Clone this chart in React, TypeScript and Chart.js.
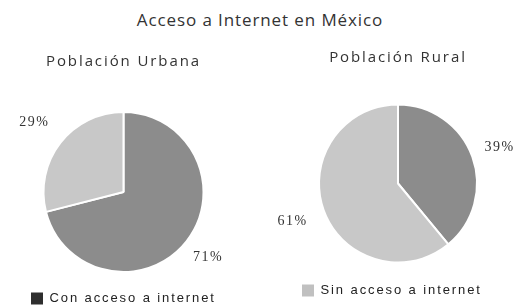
import React, { useEffect, useRef } from "react";
import { Chart, registerables } from "chart.js";

Chart.register(...registerables);

const mainTitle = "Acceso a Internet en México";
const categories = ["Con acceso a internet", "Sin acceso a internet"];
const urbanTitle = "Población Urbana";
const ruralTitle = "Población Rural";
const urbanValues = [71, 29];
const ruralValues = [39, 61];

const sliceColors = ["#8c8c8c", "#c8c8c8"];
const legendColors = ["#2e2e2e", "#c0c0c0"];

const spacingPlugin = {
  id: "spacing",
  beforeDraw(chart: any) {
    (chart.ctx as any).letterSpacing = "1.9px";
  },
  beforeDatasetsDraw(chart: any) {
    (chart.ctx as any).letterSpacing = "0px";
  },
};

const pctLabels = {
  id: "pctLabels",
  afterDatasetsDraw(chart: any, _args: any, opts: any) {
    const ctx = chart.ctx;
    const meta = chart.getDatasetMeta(0);
    const data = chart.data.datasets[0].data as number[];
    ctx.save();
    (ctx as any).letterSpacing = "1.5px";
    ctx.font = "14px 'Liberation Serif', serif";
    ctx.fillStyle = "#333";
    ctx.textAlign = "center";
    ctx.textBaseline = "middle";
    meta.data.forEach((arc: any, i: number) => {
      const p = arc.getProps(["x", "y", "startAngle", "endAngle", "outerRadius"], true);
      const mid = (p.startAngle + p.endAngle) / 2;
      const r = p.outerRadius + (opts.offsets ? opts.offsets[i] : 30);
      ctx.fillText(data[i] + "%", p.x + Math.cos(mid) * r, p.y + Math.sin(mid) * r);
    });
    ctx.restore();
  },
};

function PieChart(props: {
  title: string;
  values: number[];
  legendIndex: number;
  left: number;
  width: number;
  radius: number;
  padL: number;
  padR: number;
  padB: number;
  titleTop: number;
  titleBottom: number;
  offsets: number[];
}) {
  const ref = useRef<HTMLCanvasElement>(null);
  useEffect(() => {
    if (!ref.current) return;
    const chart = new Chart(ref.current, {
      type: "pie",
      data: {
        labels: categories,
        datasets: [
          {
            data: props.values,
            backgroundColor: sliceColors,
            borderColor: "#ffffff",
            borderWidth: 2,
          },
        ],
      },
      plugins: [spacingPlugin, pctLabels],
      options: {
        responsive: false,
        animation: false,
        radius: props.radius,
        layout: { padding: { left: props.padL, right: props.padR, bottom: props.padB, top: 0 } },
        plugins: {
          tooltip: { enabled: false },
          title: {
            display: true,
            text: props.title,
            color: "#333",
            font: { family: "'Open Sans', sans-serif", size: 15, weight: "normal" },
            padding: { top: props.titleTop, bottom: props.titleBottom },
          },
          legend: {
            display: true,
            position: "bottom",
            align: "start",
            labels: {
              color: "#222",
              font: { family: "'Liberation Sans', sans-serif", size: 13 },
              boxWidth: 12,
              boxHeight: 12,
              padding: 4,
              generateLabels: (c: any) => {
                const base = Chart.overrides.pie.plugins.legend.labels.generateLabels(c);
                return base
                  .filter((_l: any, i: number) => i === props.legendIndex)
                  .map((l: any) => ({
                    ...l,
                    fillStyle: legendColors[props.legendIndex],
                    strokeStyle: legendColors[props.legendIndex],
                    lineWidth: 0,
                  }));
              },
            },
            onClick: () => {},
          },
          pctLabels: { offsets: props.offsets },
        } as any,
      },
    });
    return () => chart.destroy();
  }, []);
  return (
    <canvas
      ref={ref}
      width={props.width}
      height={307}
      style={{ position: "absolute", left: props.left, top: 0, width: props.width, height: 307 }}
    />
  );
}

export default function App() {
  return (
    <div
      style={{
        position: "fixed",
        left: 0,
        top: 0,
        width: 521,
        height: 307,
        background: "#fff",
        overflow: "hidden",
      }}
    >
      <div
        style={{
          position: "absolute",
          left: 0,
          top: 9,
          width: 520,
          textAlign: "center",
          fontFamily: "'Open Sans', sans-serif",
          fontSize: 17,
          letterSpacing: "0.9px",
          color: "#333",
          lineHeight: "22px",
        }}
      >
        {mainTitle}
      </div>
      <PieChart
        title={urbanTitle}
        values={urbanValues}
        legendIndex={0}
        left={0}
        width={260}
        radius={80}
        padL={27}
        padR={40}
        padB={-8}
        titleTop={53}
        titleBottom={25}
        offsets={[27, 33]}
      />
      <PieChart
        title={ruralTitle}
        values={ruralValues}
        legendIndex={1}
        left={260}
        width={261}
        radius={79}
        padL={38}
        padR={23}
        padB={0}
        titleTop={49}
        titleBottom={20}
        offsets={[29, 33]}
      />
    </div>
  );
}
